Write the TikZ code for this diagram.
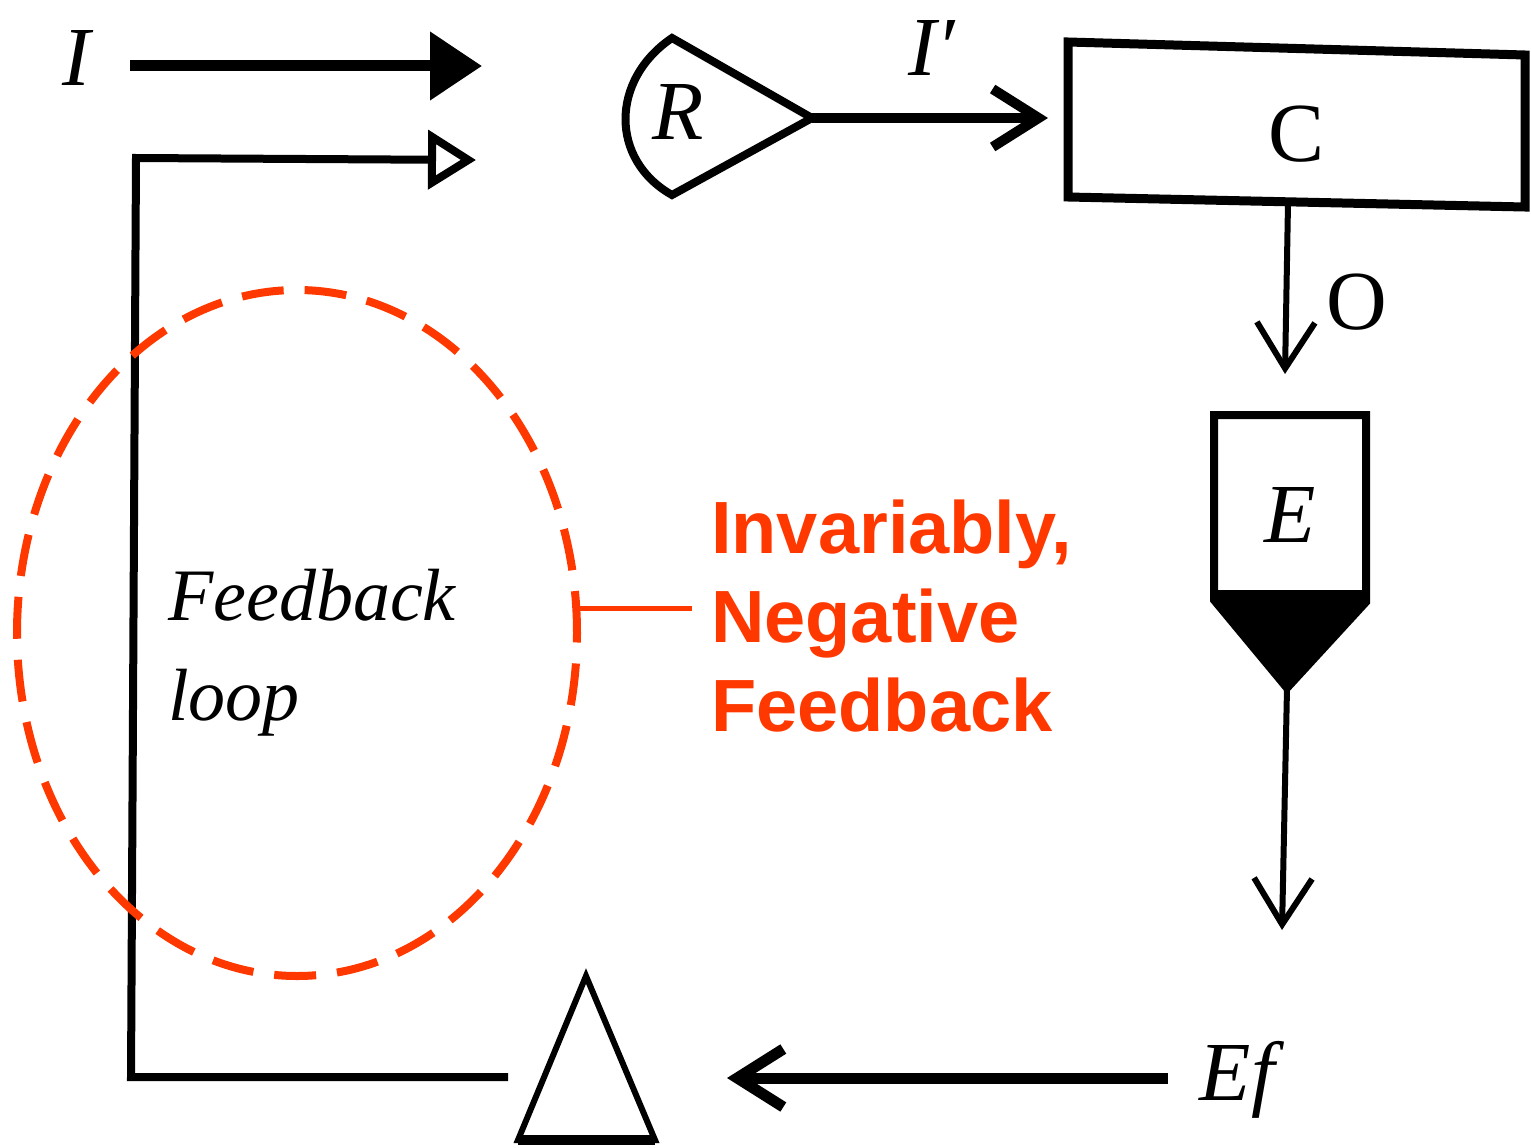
\documentclass[tikz,border=0pt]{standalone}
\usepackage{fontspec}
\setmainfont{Liberation Serif}
\newfontfamily\redsans{Liberation Sans}
\usetikzlibrary{arrows.meta,shapes.geometric}
\definecolor{fbred}{RGB}{255,56,0}
\tikzset{
  lbl/.style={font=\itshape\fontsize{84}{90}\selectfont, inner sep=0pt},
  lblup/.style={font=\fontsize{84}{90}\selectfont, inner sep=0pt},
  thickline/.style={line width=9pt, line join=miter},
  thinline/.style={line width=6pt},
  vhead/.style={-{Straight Barb[length=46pt,width=58pt]}},
}
\begin{document}
\begin{tikzpicture}[x=1pt,y=-1pt]
\useasboundingbox (0,0) rectangle (1531,1148);

% labels
\node[lbl] (Ilab) at (76,58) {I};
\node[lbl] (Iplab) at (932,48) {I′};
\node[lbl] (Rlab) at (678,112) {R};
\node[lblup] (Clab) at (1296,134) {C};
\node[lblup] (Olab) at (1357,302) {O};
\node[lbl] (Elab) at (1290,515) {E};
\node[lbl] (Eflab) at (1237,1080) {Ef};

% coordinates
\coordinate (Istart) at (130,66);
\coordinate (Iend) at (482,66);
\coordinate (Rtop) at (672,38);
\coordinate (Rbot) at (672,195);
\coordinate (Rtip) at (812,118);
\coordinate (Cin) at (1048,118);
\coordinate (C1) at (1068,42);
\coordinate (C2) at (1525,55);
\coordinate (C3) at (1525,207);
\coordinate (C4) at (1068,197);
\coordinate (Cout) at (1288,203);
\coordinate (Ein) at (1285,374);
\coordinate (E1) at (1214,415);
\coordinate (E2) at (1366,415);
\coordinate (E3) at (1366,602);
\coordinate (Etip) at (1287,688);
\coordinate (E4) at (1214,600);
\coordinate (Eout) at (1282,930);
\coordinate (Efstart) at (1168,1078);
\coordinate (Efend) at (727,1078);
\coordinate (Tapex) at (586,976);
\coordinate (Tr) at (655,1140);
\coordinate (Tl) at (518,1140);
\coordinate (Fstart) at (508,1077);
\coordinate (Fc1) at (131,1077);
\coordinate (Fc2) at (136,158);
\coordinate (Fend) at (476,160);

% I arrow
\draw[line width=11pt, -{Triangle[length=52pt,width=66pt]}] (Istart) -- (Iend);

% R teardrop
\draw[line width=8pt, line join=miter] (Rtip) -- (Rtop) .. controls (610,80) and (610,160) .. (Rbot) -- cycle;

% I' arrow
\draw[line width=10pt, vhead] (Rtip) -- (Cin);

% C box
\draw[thickline] (C1) -- (C2) -- (C3) -- (C4) -- cycle;

% O arrow
\draw[thinline, vhead] (Cout) -- (Ein);

% E shape
\fill (1214,590) -- (1366,590) -- (E3) -- (Etip) -- (E4) -- cycle;
\draw[line width=8pt, line join=miter] (E1) -- (E2) -- (E3) -- (Etip) -- (E4) -- cycle;

% down arrow
\draw[thinline, vhead] (Etip) -- (Eout);

% Ef arrow
\draw[line width=11pt, vhead] (Efstart) -- (Efend);

% comparator triangle
\draw[line width=6pt, line join=miter] (Tapex) -- (Tr) -- (Tl) -- cycle;
\draw[line width=10pt] (Tl) -- (Tr);

% feedback loop line
\draw[line width=8pt, line join=miter, -{Triangle[open,length=48pt,width=58pt]}]
  (Fstart) -- (Fc1) -- (Fc2) -- (Fend);

% Feedback loop text
\node[font=\itshape\fontsize{74}{100}\selectfont, inner sep=0pt, anchor=base west, align=left] (fbtext) at (168,720) {Feedback\\loop};

% red dashed ellipse
\node[draw=fbred, line width=8pt, dash pattern=on 42pt off 21pt, ellipse, minimum width=560pt, minimum height=686pt, inner sep=0pt] (loopell) at (297,633) {};
\coordinate (redend) at (692,608);
\draw[fbred, line width=5pt] (578,608) -- (redend);

% red text
\node[font=\redsans\bfseries\fontsize{74}{89}\selectfont, text=fbred, inner sep=0pt, anchor=base west, align=left] (redtext) at (711,731) {Invariably,\\Negative\\Feedback};
\end{tikzpicture}
\end{document}
